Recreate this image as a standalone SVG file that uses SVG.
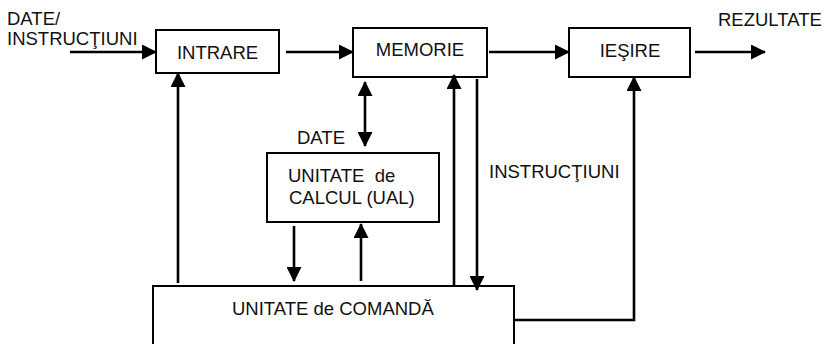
<svg xmlns="http://www.w3.org/2000/svg" width="831" height="344" viewBox="0 0 831 344">
<style>
  .box { fill: #fff; stroke: #000; stroke-width: 2; }
  .t { font-family: "Liberation Sans", Arial, sans-serif; font-size: 18.5px; fill: #111; white-space: pre; }
  .c { fill: none; stroke: #000; stroke-width: 2.6; }
</style>
<defs>
  <marker id="ah" viewBox="0 0 15 15" refX="14" refY="7.5" markerWidth="15" markerHeight="15" markerUnits="userSpaceOnUse" orient="auto-start-reverse">
    <path d="M0,0 L15,7.5 L0,15 z" fill="#000"/>
  </marker>
</defs>
<rect width="831" height="344" fill="#fff"/>

<g id="intrare">
  <rect class="box" x="156" y="30" width="123" height="43"/>
  <text class="t" x="217.5" y="59" text-anchor="middle">INTRARE</text>
</g>
<g id="memorie">
  <rect class="box" x="353" y="28" width="134" height="49"/>
  <text class="t" x="420" y="56" text-anchor="middle">MEMORIE</text>
</g>
<g id="iesire">
  <rect class="box" x="569" y="28" width="121" height="49"/>
  <text class="t" x="630" y="57" text-anchor="middle">IEŞIRE</text>
</g>
<g id="ual">
  <rect class="box" x="267" y="153" width="172" height="69"/>
  <text class="t" x="288" y="182">UNITATE  de</text>
  <text class="t" x="289" y="204">CALCUL (UAL)</text>
</g>
<g id="comanda">
  <rect class="box" x="153" y="286" width="361" height="70"/>
  <text class="t" x="232" y="315">UNITATE de COMANDĂ</text>
</g>

<g id="connectors">
  <line class="c" x1="70" y1="52" x2="156" y2="52" marker-end="url(#ah)"/>
  <line class="c" x1="286" y1="52" x2="353" y2="52" marker-end="url(#ah)"/>
  <line class="c" x1="489" y1="52" x2="569" y2="52" marker-end="url(#ah)"/>
  <line class="c" x1="695" y1="52" x2="765" y2="52" marker-end="url(#ah)"/>
  <line class="c" x1="178" y1="283" x2="178" y2="73" marker-end="url(#ah)"/>
  <line class="c" x1="365" y1="82" x2="365" y2="146" marker-start="url(#ah)" marker-end="url(#ah)"/>
  <line class="c" x1="294" y1="226" x2="294" y2="281" marker-end="url(#ah)"/>
  <line class="c" x1="361" y1="281" x2="361" y2="224" marker-end="url(#ah)"/>
  <line class="c" x1="454" y1="286" x2="454" y2="75" marker-end="url(#ah)"/>
  <line class="c" x1="477" y1="79" x2="477" y2="290" marker-end="url(#ah)"/>
  <polyline class="c" points="514,320 634,320 634,77" marker-end="url(#ah)"/>
</g>

<g id="labels">
  <text class="t" x="7" y="25">DATE/</text>
  <text class="t" x="7" y="45">INSTRUCŢIUNI</text>
  <text class="t" x="718" y="26">REZULTATE</text>
  <text class="t" x="297" y="144">DATE</text>
  <text class="t" x="489" y="178">INSTRUCŢIUNI</text>
</g>
</svg>
